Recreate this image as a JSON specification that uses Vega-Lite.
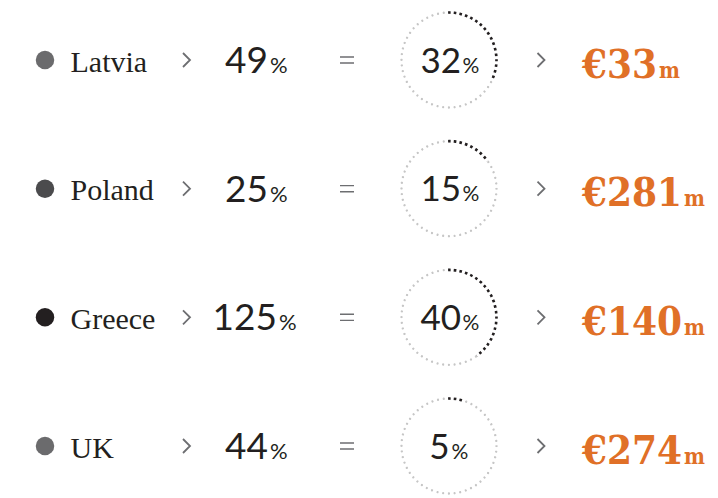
{
  "$schema": "https://vega.github.io/schema/vega-lite/v6.json",
  "width": 718,
  "height": 498,
  "padding": 0,
  "autosize": {"type": "none"},
  "background": "#ffffff",
  "config": {
    "view": {"stroke": null},
    "locale": {"number": {"decimal": ".", "thousands": ",", "grouping": [3], "currency": ["€", ""]}}
  },
  "data": {"values": [
    {"country": "Latvia", "pct": 49, "share": 32, "amount": 33},
    {"country": "Poland", "pct": 25, "share": 15, "amount": 281},
    {"country": "Greece", "pct": 125, "share": 40, "amount": 140},
    {"country": "UK", "pct": 44, "share": 5, "amount": 274}
  ]},
  "encoding": {
    "y": {"field": "country", "type": "nominal", "sort": null, "scale": {"type": "point", "range": [60, 446], "padding": 0}, "axis": null}
  },
  "resolve": {"scale": {"x": "independent"}},
  "layer": [
    {
      "layer": [
        {
          "mark": {"type": "point", "shape": "circle", "filled": true, "size": 342, "opacity": 1},
          "encoding": {
            "x": {"datum": 45, "type": "quantitative", "scale": {"domain": [0, 718], "range": [0, 718], "nice": false, "zero": false}, "axis": null},
            "color": {"field": "country", "type": "nominal", "scale": {"domain": ["Latvia", "Poland", "Greece", "UK"], "range": ["#6b6b6d", "#4b4b4d", "#231f20", "#6b6b6d"]}, "legend": null}
          }
        },
        {
          "mark": {"type": "text", "align": "left", "baseline": "alphabetic", "dy": 11.7, "font": "Liberation Serif", "fontSize": 30, "color": "#231f20"},
          "encoding": {
            "x": {"datum": 70.5, "type": "quantitative", "scale": {"domain": [0, 718], "range": [0, 718], "nice": false, "zero": false}, "axis": null},
            "text": {"field": "country", "type": "nominal"}
          }
        },
        {
          "mark": {"type": "point", "shape": "M-0.5,-1L0.5,0L-0.5,1", "filled": false, "size": 196, "strokeWidth": 1.8, "color": "#6d6e71", "opacity": 1},
          "encoding": {
            "x": {"datum": 186.5, "type": "quantitative", "scale": {"domain": [0, 718], "range": [0, 718], "nice": false, "zero": false}, "axis": null}
          }
        },
        {
          "mark": {"type": "point", "shape": "M-1,-0.43L1,-0.43M-1,0.43L1,0.43", "filled": false, "size": 196, "strokeWidth": 1.4, "color": "#6d6e71", "opacity": 1},
          "encoding": {
            "x": {"datum": 347, "type": "quantitative", "scale": {"domain": [0, 718], "range": [0, 718], "nice": false, "zero": false}, "axis": null}
          }
        },
        {
          "mark": {"type": "point", "shape": "circle", "filled": false, "size": 9025, "strokeWidth": 2.4, "strokeDash": [0.001, 5.7385], "strokeCap": "round", "color": "#c6c6c6", "opacity": 1},
          "encoding": {
            "x": {"datum": 449, "type": "quantitative", "scale": {"domain": [0, 718], "range": [0, 718], "nice": false, "zero": false}, "axis": null}
          }
        },
        {
          "mark": {"type": "arc", "outerRadius": 48.8, "innerRadius": 46.2, "color": "#231f20"},
          "encoding": {
            "x": {"datum": 449, "type": "quantitative", "scale": {"domain": [0, 718], "range": [0, 718], "nice": false, "zero": false}, "axis": null},
            "theta": {"field": "share", "type": "quantitative", "stack": null, "scale": {"domain": [0, 100], "range": [0, 6.283185]}},
            "theta2": {"value": -0.03}
          }
        },
        {
          "mark": {"type": "point", "shape": "circle", "filled": false, "size": 9025, "strokeWidth": 5, "strokeDash": [3.1395, 2.6], "strokeDashOffset": 4.4395, "color": "#ffffff", "opacity": 1},
          "encoding": {
            "x": {"datum": 449, "type": "quantitative", "scale": {"domain": [0, 718], "range": [0, 718], "nice": false, "zero": false}, "axis": null}
          }
        },
        {
          "mark": {"type": "point", "shape": "M-0.5,-1L0.5,0L-0.5,1", "filled": false, "size": 196, "strokeWidth": 1.8, "color": "#6d6e71", "opacity": 1},
          "encoding": {
            "x": {"datum": 541, "type": "quantitative", "scale": {"domain": [0, 718], "range": [0, 718], "nice": false, "zero": false}, "axis": null}
          }
        },
        {
          "mark": {"type": "text", "align": "left", "baseline": "alphabetic", "dy": 17.5, "font": "DejaVu Serif Condensed", "fontWeight": "bold", "fontSize": 40, "color": "#e07027"},
          "encoding": {
            "x": {"datum": 582, "type": "quantitative", "scale": {"domain": [0, 718], "range": [0, 718], "nice": false, "zero": false}, "axis": null},
            "text": {"field": "amount", "type": "quantitative", "format": "$d"}
          }
        }
      ]
    },
    {
      "mark": {"type": "text", "align": "right", "baseline": "alphabetic", "dy": 13, "font": "Lato", "fontSize": 37, "color": "#231f20"},
      "encoding": {
        "x": {"field": "pct", "type": "quantitative", "scale": {"domain": [99, 100], "range": [268, 277], "clamp": true, "nice": false, "zero": false}, "axis": null},
        "text": {"field": "pct", "type": "quantitative"}
      }
    },
    {
      "mark": {"type": "text", "align": "left", "baseline": "alphabetic", "dy": 13, "font": "Lato", "fontSize": 22, "color": "#231f20", "text": "%"},
      "encoding": {
        "x": {"field": "pct", "type": "quantitative", "scale": {"domain": [99, 100], "range": [270, 279], "clamp": true, "nice": false, "zero": false}, "axis": null}
      }
    },
    {
      "mark": {"type": "text", "align": "right", "baseline": "alphabetic", "dy": 12.5, "font": "Lato", "fontSize": 35, "color": "#231f20"},
      "encoding": {
        "x": {"field": "share", "type": "quantitative", "scale": {"domain": [9, 10], "range": [449.5, 461], "clamp": true, "nice": false, "zero": false}, "axis": null},
        "text": {"field": "share", "type": "quantitative"}
      }
    },
    {
      "mark": {"type": "text", "align": "left", "baseline": "alphabetic", "dy": 12.5, "font": "Lato", "fontSize": 21, "color": "#231f20", "text": "%"},
      "encoding": {
        "x": {"field": "share", "type": "quantitative", "scale": {"domain": [9, 10], "range": [451.5, 462.5], "clamp": true, "nice": false, "zero": false}, "axis": null}
      }
    },
    {
      "mark": {"type": "text", "align": "left", "baseline": "alphabetic", "dy": 17.5, "font": "DejaVu Serif Condensed", "fontWeight": "bold", "fontSize": 22, "color": "#e07027", "text": "m"},
      "encoding": {
        "x": {"field": "amount", "type": "quantitative", "scale": {"domain": [99, 100], "range": [659, 684], "clamp": true, "nice": false, "zero": false}, "axis": null}
      }
    }
  ]
}
